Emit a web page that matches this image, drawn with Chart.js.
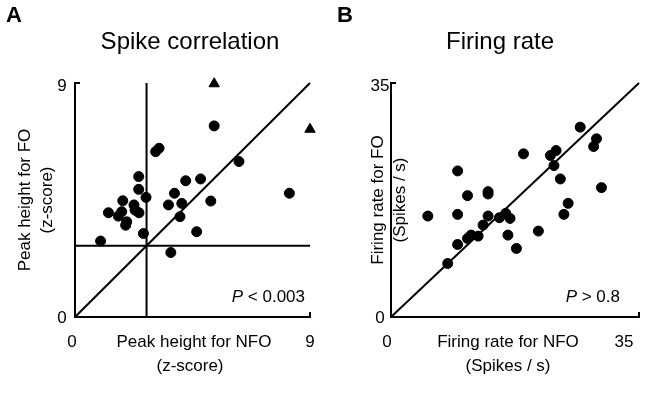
<!DOCTYPE html>
<html><head><meta charset="utf-8">
<script src="https://cdn.jsdelivr.net/npm/chart.js@4/dist/chart.umd.min.js"></script>
<style>body{margin:0;background:#fff;width:652px;height:404px;position:relative;overflow:hidden}
canvas{position:absolute;top:0}</style></head><body>
<div style="position:absolute;left:0;top:0;width:326px;height:404px"><canvas id="a"></canvas></div>
<div style="position:absolute;left:316px;top:0;width:336px;height:404px"><canvas id="b"></canvas></div>
<script>
const corrNFO=[5.33,9.0];
const corrFOtri=[8.97,7.22];
const corrX=[5.33,3.22,3.09,6.28,8.21,2.44,2.44,2.72,1.83,1.28,1.66,1.79,2.26,2.30,2.45,1.98,1.94,2.62,0.98,4.24,4.81,3.81,3.58,4.09,4.02,5.20,4.66,3.67];
const corrY=[7.35,6.49,6.36,5.98,4.76,5.40,4.91,4.60,4.47,4.01,3.88,4.05,4.31,4.11,4.01,3.66,3.53,3.21,2.92,5.24,5.31,4.76,4.31,4.37,3.86,4.46,3.28,2.48];
const corrThreshold=2.74;
const rateX=[26.7,29.0,28.6,23.3,22.5,18.7,23.0,23.9,29.7,25.0,24.4,9.4,10.8,13.7,13.7,5.2,9.4,13.7,15.3,16.2,16.8,13.0,12.3,11.3,10.8,9.4,16.5,20.8,17.7,8.0];
const rateY=[28.4,26.65,25.5,24.9,24.15,24.4,22.65,20.65,19.35,17.0,15.35,21.85,18.15,18.75,18.4,15.1,15.35,15.1,14.85,15.5,14.75,13.75,12.1,12.25,11.75,10.85,12.25,12.85,10.25,8.0];
const ticksA=[0,9], ticksB=[0,35];
const F='Arial, "Liberation Sans", sans-serif';
function pts(xs,ys){return xs.map((x,i)=>({x,y:ys[i]}));}
function line(d){return {type:'line',data:d,borderColor:'#000',borderWidth:2,pointRadius:0,fill:false,clip:false};}
function txt(ctx,s,x,y,size,opt={}){ctx.save();ctx.fillStyle='#000';ctx.font=(opt.w||'')+' '+size+'px '+F;ctx.textAlign=opt.a||'center';ctx.textBaseline='middle';ctx.translate(x,y);if(opt.r)ctx.rotate(-Math.PI/2);ctx.fillText(s,0,0);ctx.restore();}
function make(id,max,ticks,datasets,t){
 new Chart(document.getElementById(id),{type:'scatter',data:{datasets},
 options:{responsive:true,maintainAspectRatio:false,animation:false,
  layout:{padding:t.pad},
  plugins:{legend:{display:false},tooltip:{enabled:false}},
  scales:{x:{min:ticks[0],max:ticks[1],ticks:{display:false},grid:{display:false,drawTicks:false},border:{color:'#000',width:2}},
          y:{min:ticks[0],max:ticks[1],ticks:{display:false},grid:{display:false,drawTicks:false},border:{color:'#000',width:2}}}},
 plugins:[{id:'t',afterDraw(c){const ctx=c.ctx,a=c.chartArea;
  ctx.save();ctx.strokeStyle='#000';ctx.lineWidth=2;ctx.beginPath();
  ctx.moveTo(a.left,a.top);ctx.lineTo(a.left+5,a.top);ctx.moveTo(a.right,a.bottom);ctx.lineTo(a.right,a.bottom-5);ctx.stroke();ctx.restore();
  t.draw(ctx,a);}}]});
}
const dot={pointRadius:5,pointBackgroundColor:'#000',pointBorderColor:'#000',showLine:false,clip:false};
make('a',9,ticksA,[
 {...dot,data:pts(corrX,corrY)},
 {...dot,pointStyle:'triangle',pointRadius:6,data:pts(corrNFO,corrFOtri)},
 line([{x:0,y:0},{x:9,y:9}]),
 line([{x:0,y:corrThreshold},{x:9,y:corrThreshold}]),
 line([{x:corrThreshold,y:0},{x:corrThreshold,y:9}])
],{pad:{left:75,right:16,top:83,bottom:87},draw(ctx,a){
 txt(ctx,'A',14,16,22,{w:'bold'});
 txt(ctx,'Spike correlation',190,42,24);
 txt(ctx,'Peak height for FO',25,200,17,{r:1});
 txt(ctx,'(z-score)',47,200,17,{r:1});
 txt(ctx,String(ticksA[1]),62,86,17);txt(ctx,String(ticksA[0]),62,318,17);
 txt(ctx,String(ticksA[0]),72,342,17);txt(ctx,String(ticksA[1]),310,342,17);
 txt(ctx,'Peak height for NFO',194,342,17);txt(ctx,'(z-score)',190,366,17);
 ctx.save();ctx.font='17px '+F;const w=ctx.measureText(' < 0.003').width;ctx.restore();
 txt(ctx,' < 0.003',305,297,17,{a:'right'});txt(ctx,'P',305-w,297,17,{a:'right',w:'italic'});
}});
make('b',35,ticksB,[
 {...dot,data:pts(rateX,rateY)},
 line([{x:0,y:0},{x:35,y:35}])
],{pad:{left:75,right:13,top:83,bottom:87},draw(ctx,a){
 txt(ctx,'B',29,16,22,{w:'bold'});
 txt(ctx,'Firing rate',184,42,24);
 txt(ctx,'Firing rate for FO',62,200,17,{r:1});
 txt(ctx,'(Spikes / s)',84,200,17,{r:1});
 txt(ctx,String(ticksB[1]),64,86,17);txt(ctx,String(ticksB[0]),64,318,17);
 txt(ctx,String(ticksB[0]),71,342,17);txt(ctx,String(ticksB[1]),308,342,17);
 txt(ctx,'Firing rate for NFO',192,342,17);txt(ctx,'(Spikes / s)',192,366,17);
 ctx.save();ctx.font='17px '+F;const w=ctx.measureText(' > 0.8').width;ctx.restore();
 txt(ctx,' > 0.8',304,297,17,{a:'right'});txt(ctx,'P',304-w,297,17,{a:'right',w:'italic'});
}});
</script></body></html>
